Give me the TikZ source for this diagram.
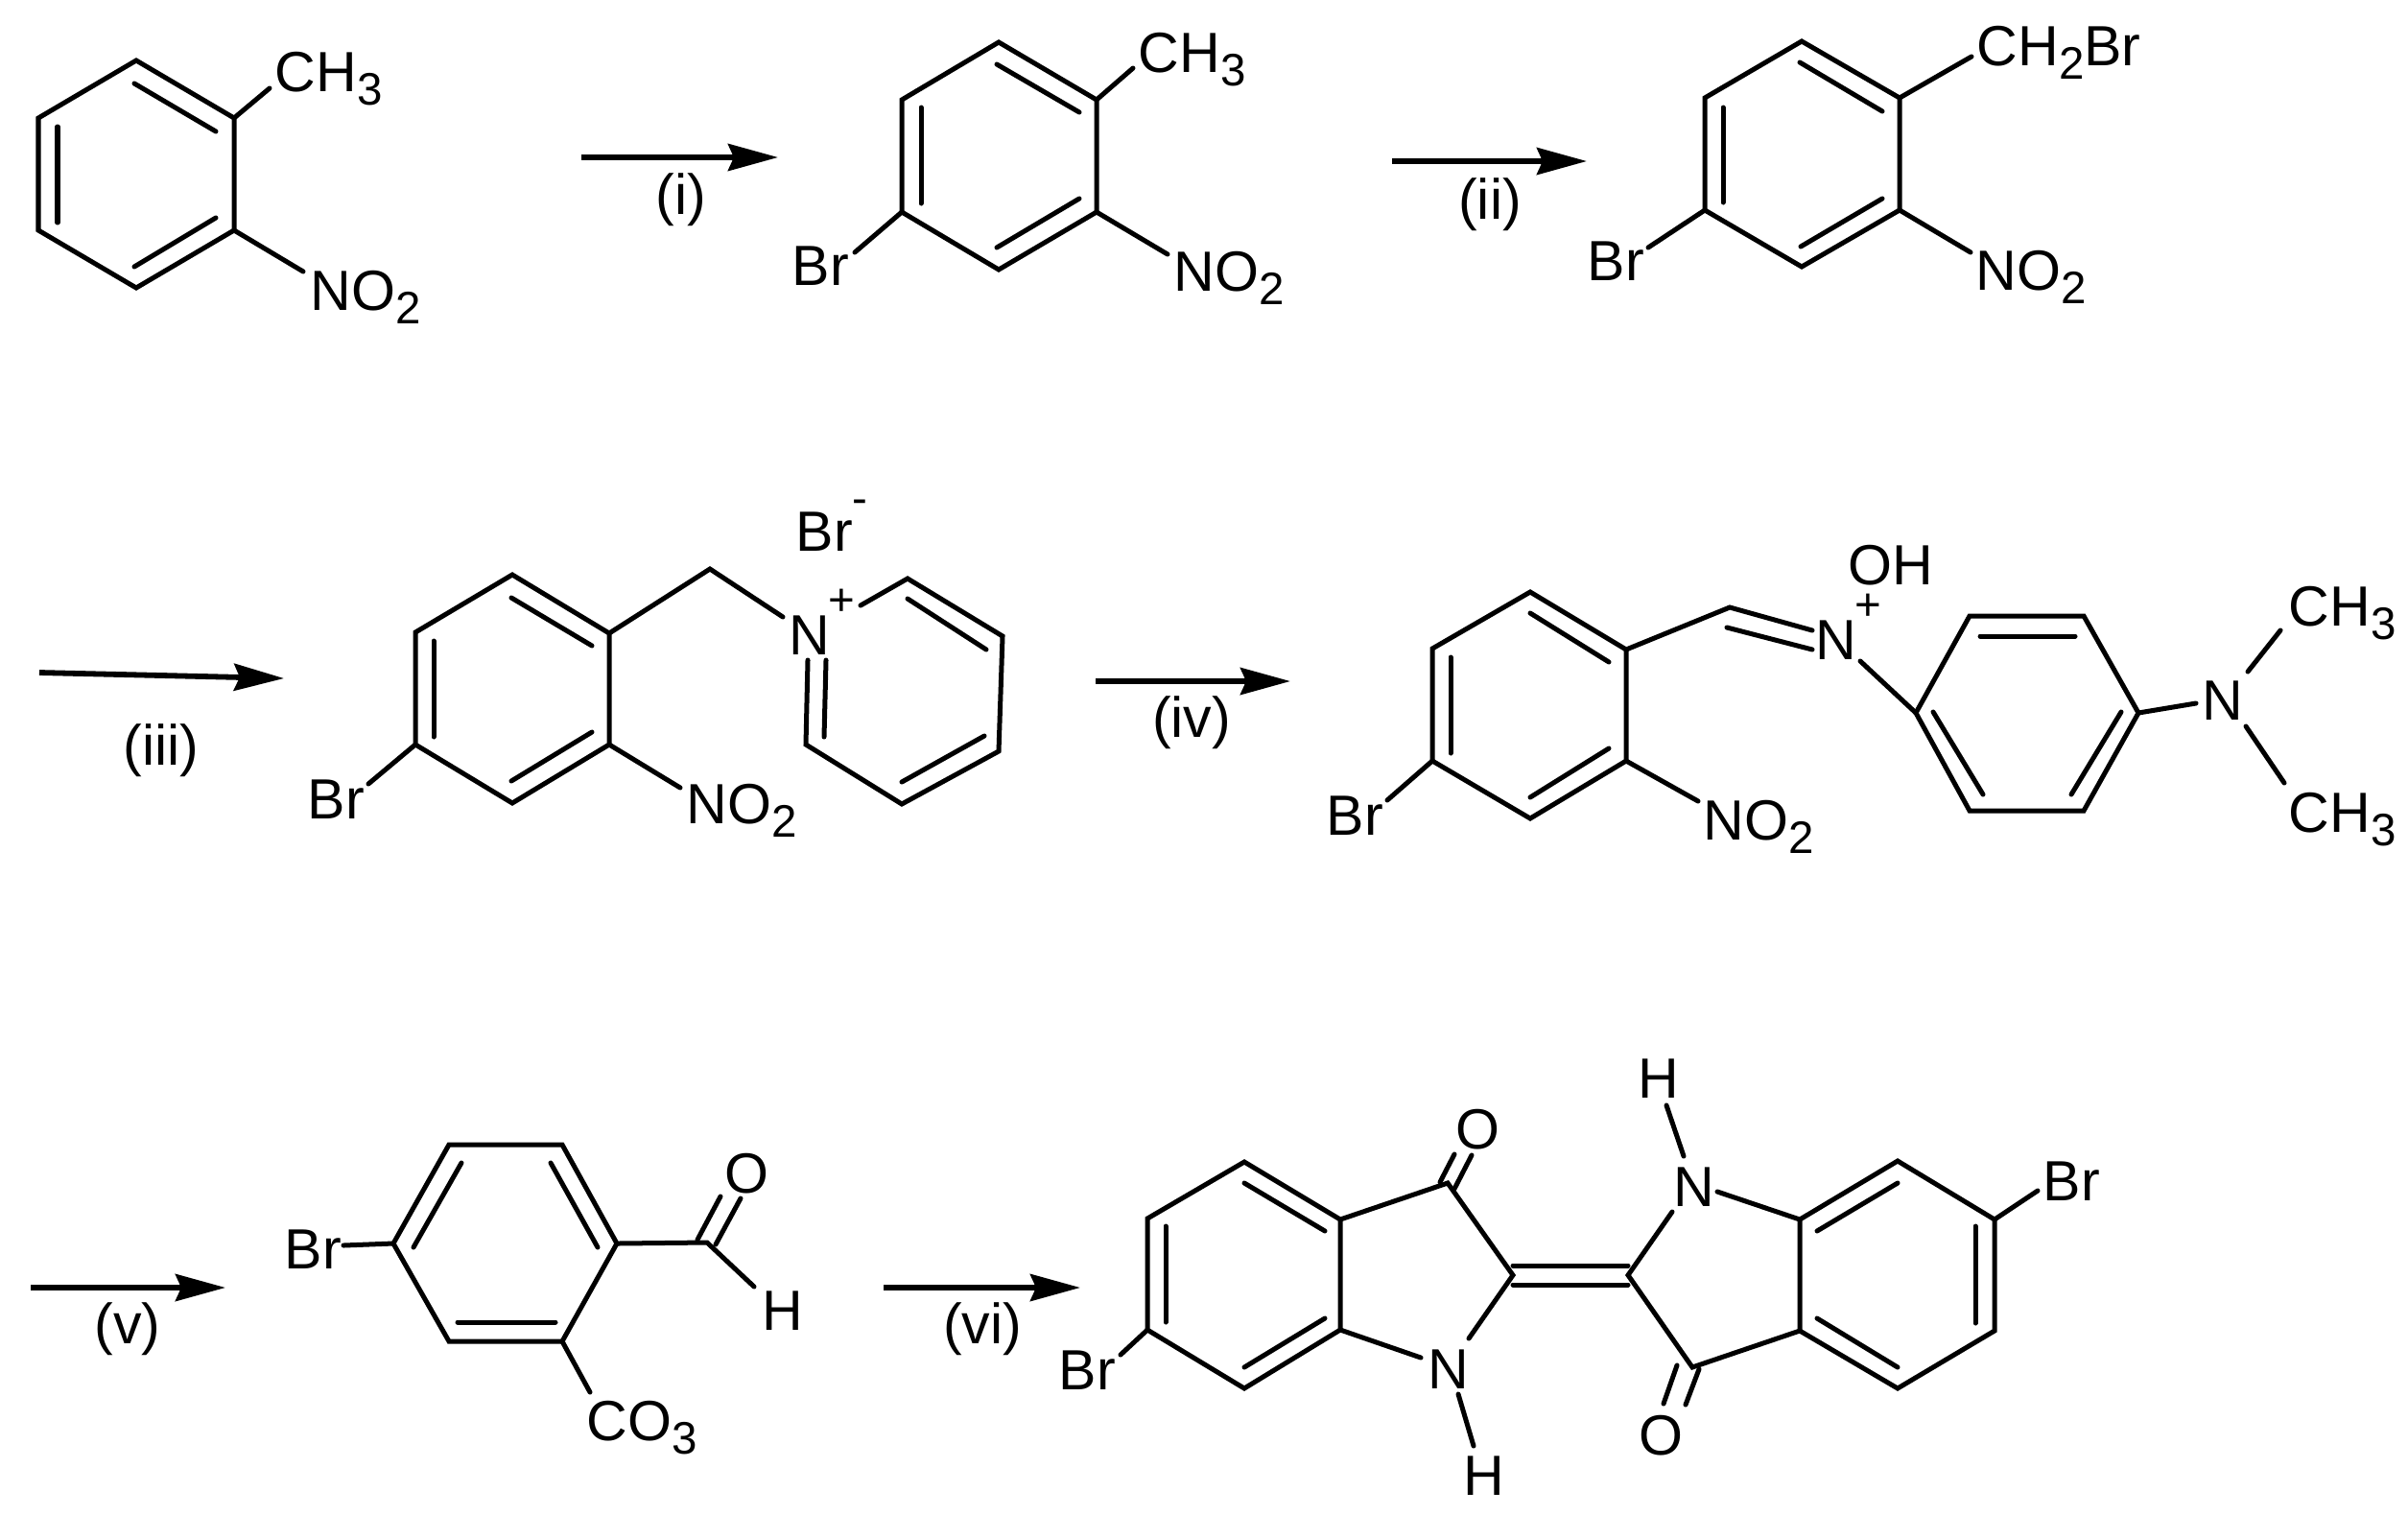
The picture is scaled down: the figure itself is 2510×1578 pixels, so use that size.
\documentclass[tikz,border=0pt]{standalone}
\usepackage{fontspec}
\setmainfont{Liberation Sans}
\usetikzlibrary{arrows.meta}

\newcommand{\subnum}[1]{\raisebox{-0.14cm}{\fontsize{13.5}{13.5}\selectfont #1}}

\tikzset{
    bond/.style={line width=0.05cm, line cap=round},
    reaction/.style={line width=0.058cm, -{Stealth[length=0.52cm, width=0.28cm, inset=0.06cm]}},
    atom/.style={font=\fontsize{16.8}{18}\selectfont, inner sep=0pt, anchor=base west},
    cond/.style={font=\fontsize{16.8}{18}\selectfont, inner sep=0pt, anchor=base},
    charge/.style={font=\fontsize{13.5}{13.5}\selectfont, inner sep=0pt}
}

\begin{document}
\begin{tikzpicture}[x=0.01cm, y=-0.01cm]
    \useasboundingbox (0,0) rectangle (2510,1578);

    % Reaction arrows
    \foreach \name/\xa/\ya/\xb/\yb in {one/606/164/811/164, two/1451/168/1654/168, three/41/701/296/707,
        four/1142/710/1345/710, five/32/1342/235/1342, six/921/1342/1126/1342} {
        \coordinate (\name s) at (\xa,\ya);
        \coordinate (\name e) at (\xb,\yb);
        \draw[reaction] (\name s) -- (\name e);
    }
    \node[cond] (condi) at (710,223) {(i)};
    \node[cond] (condii) at (1553,228) {(ii)};
    \node[cond] (condiii) at (168,797) {(iii)};
    \node[cond] (condiv) at (1242,768) {(iv)};
    \node[cond] (condv) at (133,1400) {(v)};
    \node[cond] (condvi) at (1024,1400) {(vi)};

    % 2-nitrotoluene
    \foreach \name/\x/\y in {aa/142/63, ab/244/123, ac/244/240, ad/142/300, ae/40/240, af/40/123,
        ach/281/92, ano/316/283} {
        \coordinate (\name) at (\x,\y);
    }
    \draw[bond] (aa) -- (ab) -- (ac) -- (ad) -- (ae) -- (af) -- cycle;
    \draw[bond] (ab) -- (ach);
    \draw[bond] (ac) -- (ano);
    \foreach \xa/\ya/\xb/\yb in {140/87/225/137, 60/132/60/232, 140/278/225/227} {
        \draw[bond] (\xa,\ya) -- (\xb,\yb);
    }
    \node[atom] (ach3) at (286,95) {CH\subnum{3}};
    \node[atom] (ano2) at (323,323) {NO\subnum{2}};

    % Bromo product
    \foreach \name/\x/\y in {ba/1041/44, bb/1143/104, bc/1143/221, bd/1041/281, be/940/221, bf/940/104,
        bch/1181/71, bno/1217/265, bbr/891/263} {
        \coordinate (\name) at (\x,\y);
    }
    \draw[bond] (ba) -- (bb) -- (bc) -- (bd) -- (be) -- (bf) -- cycle;
    \draw[bond] (bb) -- (bch);
    \draw[bond] (bc) -- (bno);
    \draw[bond] (be) -- (bbr);
    \foreach \xa/\ya/\xb/\yb in {1039/67/1125/117, 960/112/960/212, 1039/258/1125/207} {
        \draw[bond] (\xa,\ya) -- (\xb,\yb);
    }
    \node[atom] (bch3) at (1186,75) {CH\subnum{3}};
    \node[atom] (bno2) at (1223,303) {NO\subnum{2}};
    \node[atom] (bbr1) at (825,297) {Br};

    % Benzyl bromide
    \foreach \name/\x/\y in {ca/1878/43, cb/1980/102, cc/1980/219, cd/1878/278, ce/1777/219, cf/1777/102,
        cch/2055/59, cno/2054/263, cbr/1718/258} {
        \coordinate (\name) at (\x,\y);
    }
    \draw[bond] (ca) -- (cb) -- (cc) -- (cd) -- (ce) -- (cf) -- cycle;
    \draw[bond] (cb) -- (cch);
    \draw[bond] (cc) -- (cno);
    \draw[bond] (ce) -- (cbr);
    \foreach \xa/\ya/\xb/\yb in {1876/65/1962/116, 1796/112/1796/211, 1877/257/1962/207} {
        \draw[bond] (\xa,\ya) -- (\xb,\yb);
    }
    \node[atom] (cch2) at (2060,68) {CH\subnum{2}Br};
    \node[atom] (cno2) at (2059,302) {NO\subnum{2}};
    \node[atom] (cbr1) at (1654,292) {Br};

    % Pyridinium salt
    \foreach \name/\x/\y in {da/534/599, db/635/660, dc/635/776, dd/534/837, de/433/776, df/433/659,
        dch/740/593, dnl/816/643, dno/709/821, dbr/384/817,
        pa/897/631, pb/946/603, pc/1045/663, pd/1041/783, pe/940/838, pf/840/776, pg/842/688} {
        \coordinate (\name) at (\x,\y);
    }
    \draw[bond] (da) -- (db) -- (dc) -- (dd) -- (de) -- (df) -- cycle;
    \draw[bond] (db) -- (dch) -- (dnl);
    \draw[bond] (dc) -- (dno);
    \draw[bond] (de) -- (dbr);
    \draw[bond] (pa) -- (pb) -- (pc) -- (pd) -- (pe) -- (pf) -- (pg);
    \foreach \xa/\ya/\xb/\yb in {533/623/617/673, 452/668/452/768, 533/814/617/763,
        946/624/1028/677, 940/815/1026/767, 861/688/859/768} {
        \draw[bond] (\xa,\ya) -- (\xb,\yb);
    }
    \node[atom] (dbr1) at (829,574) {Br};
    \node[charge] (dminus) at (896,528) {-};
    \node[atom] (dn) at (822,682) {N};
    \node[charge] (dplus) at (877,628) {+};
    \node[atom] (dno2) at (715,858) {NO\subnum{2}};
    \node[atom] (dbr2) at (320,853) {Br};

    % Nitrone
    \foreach \name/\x/\y in {ea/1595/617, eb/1695/677, ec/1695/793, ed/1595/853, ee/1493/793, ef/1493/676,
        ech/1803/633, enu/1889/657, enl/1889/677, eci/1800/654, eno/1770/835, ebr/1446/834,
        ena/1939/689, ra/1997/743, rb/2053/642, rc/2172/642, rd/2229/743, re/2172/845, rf/2053/845,
        rn/2289/733, mea/2343/700, meb/2377/657, mec/2341/757, med/2381/816} {
        \coordinate (\name) at (\x,\y);
    }
    \draw[bond] (ea) -- (eb) -- (ec) -- (ed) -- (ee) -- (ef) -- cycle;
    \draw[bond] (eb) -- (ech) -- (enu);
    \draw[bond] (eci) -- (enl);
    \draw[bond] (ec) -- (eno);
    \draw[bond] (ee) -- (ebr);
    \draw[bond] (ena) -- (ra);
    \draw[bond] (ra) -- (rb) -- (rc) -- (rd) -- (re) -- (rf) -- cycle;
    \draw[bond] (rd) -- (rn);
    \draw[bond] (mea) -- (meb);
    \draw[bond] (mec) -- (med);
    \foreach \xa/\ya/\xb/\yb in {1595/639/1677/690, 1512/685/1512/785, 1595/831/1677/780,
        2064/663/2163/663, 2015/742/2067/828, 2211/742/2159/828} {
        \draw[bond] (\xa,\ya) -- (\xb,\yb);
    }
    \node[atom] (eoh) at (1926,609) {OH};
    \node[charge] (eplus) at (1947,633) {+};
    \node[atom] (en) at (1892,687) {N};
    \node[atom] (eno2) at (1775,875) {NO\subnum{2}};
    \node[atom] (ebr1) at (1382,870) {Br};
    \node[atom] (rn1) at (2295,750) {N};
    \node[atom] (rch1) at (2385,652) {CH\subnum{3}};
    \node[atom] (rch2) at (2385,867) {CH\subnum{3}};

    % Aldehyde
    \foreach \name/\x/\y in {fa/468/1193, fb/586/1193, fc/643/1296, fd/586/1398, fe/468/1398, ff/410/1296,
        fbr/358/1298, fcho/737/1295, fh/786/1341, fco/615/1451} {
        \coordinate (\name) at (\x,\y);
    }
    \draw[bond] (fa) -- (fb) -- (fc) -- (fd) -- (fe) -- (ff) -- cycle;
    \draw[bond] (ff) -- (fbr);
    \draw[bond] (fc) -- (fcho) -- (fh);
    \draw[bond] (fd) -- (fco);
    \foreach \xa/\ya/\xb/\yb in {481/1212/431/1300, 574/1212/623/1300, 477/1378/579/1378,
        727/1292/751/1247, 746/1297/772/1249} {
        \draw[bond] (\xa,\ya) -- (\xb,\yb);
    }
    \node[atom] (fbr1) at (296,1322) {Br};
    \node[atom] (fo) at (755,1243) {O};
    \node[atom] (fh1) at (794,1386) {H};
    \node[atom] (fco3) at (611,1501) {CO\subnum{3}};

    % Dibromoindigo
    \foreach \name/\x/\y in {ga/1297/1211, gb/1397/1271, gc/1397/1386, gd/1297/1447, ge/1196/1386, gf/1196/1270,
        gco/1509/1233, gtwo/1577/1329, gnb/1531/1395, gnc/1481/1415, gnh/1520/1453, ghn/1536/1507, gbr/1168/1412,
        ha/1978/1210, hb/2079/1271, hc/2079/1387, hd/1978/1447, he/1876/1387, hf/1876/1271,
        hco/1764/1425, htwo/1697/1329, hnb/1743/1263, hnc/1790/1242, hnh/1755/1205, hhn/1737/1152, hbr/2124/1241} {
        \coordinate (\name) at (\x,\y);
    }
    \draw[bond] (ga) -- (gb) -- (gc) -- (gd) -- (ge) -- (gf) -- cycle;
    \draw[bond] (gb) -- (gco) -- (gtwo) -- (gnb);
    \draw[bond] (gc) -- (gnc);
    \draw[bond] (gnh) -- (ghn);
    \draw[bond] (ge) -- (gbr);
    \draw[bond] (ha) -- (hb) -- (hc) -- (hd) -- (he) -- (hf) -- cycle;
    \draw[bond] (he) -- (hco) -- (htwo) -- (hnb);
    \draw[bond] (hf) -- (hnc);
    \draw[bond] (hnh) -- (hhn);
    \draw[bond] (hb) -- (hbr);
    \foreach \xa/\ya/\xb/\yb in {1297/1233/1381/1283, 1215/1278/1215/1378, 1297/1425/1381/1374,
        1501/1232/1516/1203, 1516/1239/1534/1204, 1577/1319/1697/1319, 1577/1339/1697/1339,
        1894/1283/1978/1233, 2059/1278/2059/1379, 1894/1374/1978/1425,
        1748/1423/1734/1463, 1771/1427/1757/1464} {
        \draw[bond] (\xa,\ya) -- (\xb,\yb);
    }
    \node[atom] (go) at (1517,1197) {O};
    \node[atom] (gn) at (1488,1447) {N};
    \node[atom] (gh) at (1525,1558) {H};
    \node[atom] (gbr1) at (1103,1448) {Br};
    \node[atom] (hh) at (1707,1144) {H};
    \node[atom] (hn) at (1744,1257) {N};
    \node[atom] (ho) at (1708,1516) {O};
    \node[atom] (hbr1) at (2129,1251) {Br};
\end{tikzpicture}
\end{document}
